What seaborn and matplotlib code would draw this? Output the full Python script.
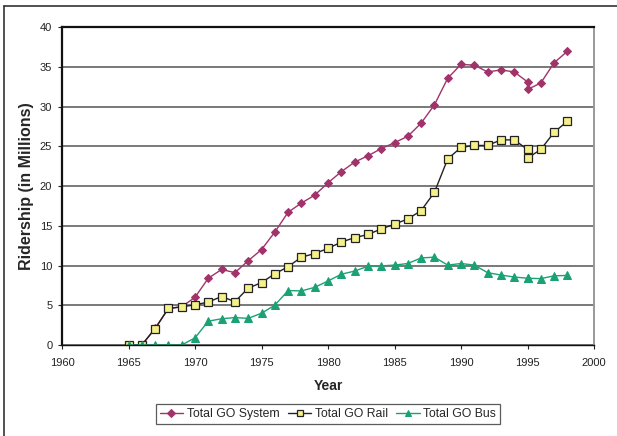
import matplotlib
matplotlib.use('Agg')
import matplotlib.pyplot as plt
import seaborn as sns
import pandas as pd

# Data (1995 has two readings)
years = [1965, 1966, 1967, 1968, 1969, 1970, 1971, 1972, 1973, 1974,
         1975, 1976, 1977, 1978, 1979, 1980, 1981, 1982, 1983, 1984,
         1985, 1986, 1987, 1988, 1989, 1990, 1991, 1992, 1993, 1994,
         1995, 1995, 1996, 1997, 1998]
go_system = [0, 0, 2.1, 4.6, 4.8, 6.0, 8.4, 9.5, 9.1, 10.6,
             12.0, 14.2, 16.7, 17.85, 18.85, 20.4, 21.8, 23.0, 23.8, 24.7,
             25.45, 26.25, 27.9, 30.2, 33.55, 35.3, 35.2, 34.35, 34.6, 34.35,
             33.1, 32.15, 32.95, 35.5, 36.95]
go_rail = [0, 0, 2.05, 4.6, 4.8, 5.05, 5.4, 6.1, 5.45, 7.15,
           7.85, 8.95, 9.85, 11.05, 11.5, 12.15, 12.95, 13.5, 13.9, 14.6,
           15.2, 15.85, 16.9, 19.2, 23.4, 24.85, 25.1, 25.1, 25.8, 25.8,
           24.6, 23.5, 24.6, 26.75, 28.15]
go_bus = [0, 0, 0, 0, 0, 0.9, 3.0, 3.3, 3.45, 3.35,
          4.0, 5.0, 6.85, 6.8, 7.25, 8.05, 8.9, 9.3, 9.9, 9.95,
          10.05, 10.25, 10.95, 11.05, 10.05, 10.25, 10.05, 9.1, 8.8, 8.55,
          8.4, 8.4, 8.35, 8.7, 8.75]

df = pd.DataFrame({'Year': years, 'System': go_system, 'Rail': go_rail, 'Bus': go_bus})

sns.set_style('white')
plt.rcParams['font.family'] = ['Liberation Sans', 'DejaVu Sans']

fig = plt.figure(figsize=(6.17, 4.36), dpi=100)
ax = fig.add_axes([62 / 617, 1 - 345 / 436, 532 / 617, 318 / 436])

# outer frame of the original picture (only left and top visible)
fig.add_artist(plt.Line2D([4 / 617, 4 / 617], [0, 1 - 6 / 436], color='#333333', lw=1.2))
fig.add_artist(plt.Line2D([4 / 617, 1], [1 - 6 / 436, 1 - 6 / 436], color='#333333', lw=1.2))

sns.lineplot(data=df, x='Year', y='System', estimator=None, sort=False, ax=ax,
             color='#A0336A', lw=1, marker='D', markersize=4.5, markeredgecolor='#A0336A',
             label='Total GO System')
sns.lineplot(data=df, x='Year', y='Rail', estimator=None, sort=False, ax=ax,
             color='#222222', lw=1, marker='s', markersize=5.5, markerfacecolor='#F5F08A',
             markeredgecolor='#222222', markeredgewidth=0.9, label='Total GO Rail')
sns.lineplot(data=df, x='Year', y='Bus', estimator=None, sort=False, ax=ax,
             color='#1AA274', lw=1, marker='^', markersize=6, markeredgecolor='#1AA274',
             label='Total GO Bus')

ax.set_xlim(1960, 2000)
ax.set_ylim(0, 40)
ax.set_xticks(range(1960, 2001, 5))
ax.set_yticks(range(0, 41, 5))
ax.yaxis.grid(True, color='#555555', lw=1.1)
ax.set_axisbelow(True)
ax.tick_params(axis='both', labelsize=8, colors='#222222', length=3, width=0.8,
               direction='out', left=True, bottom=True, pad=4)
ax.tick_params(axis='x', pad=6)
for s in ['left', 'top']:
    ax.spines[s].set_color('#111111')
    ax.spines[s].set_linewidth(1.6)
ax.spines['bottom'].set_color('#111111')
ax.spines['bottom'].set_linewidth(1.0)
ax.spines['right'].set_color('#999999')
ax.spines['right'].set_linewidth(1.4)

ax.set_xlabel('Year', fontsize=10, fontweight='bold', labelpad=8)
ax.set_ylabel('Ridership (in Millions)', fontsize=11.5, fontweight='bold', labelpad=4)

leg = ax.legend(loc='center', bbox_to_anchor=(328 / 617, 1 - 414 / 436),
                bbox_transform=fig.transFigure, ncol=3, fontsize=8.8, frameon=True,
                fancybox=False, edgecolor='#333333', handlelength=1.9, handletextpad=0.3,
                columnspacing=0.7, borderpad=0.3, markerscale=0.8)
leg.get_frame().set_linewidth(0.9)

fig.savefig('out.png', dpi=100)
